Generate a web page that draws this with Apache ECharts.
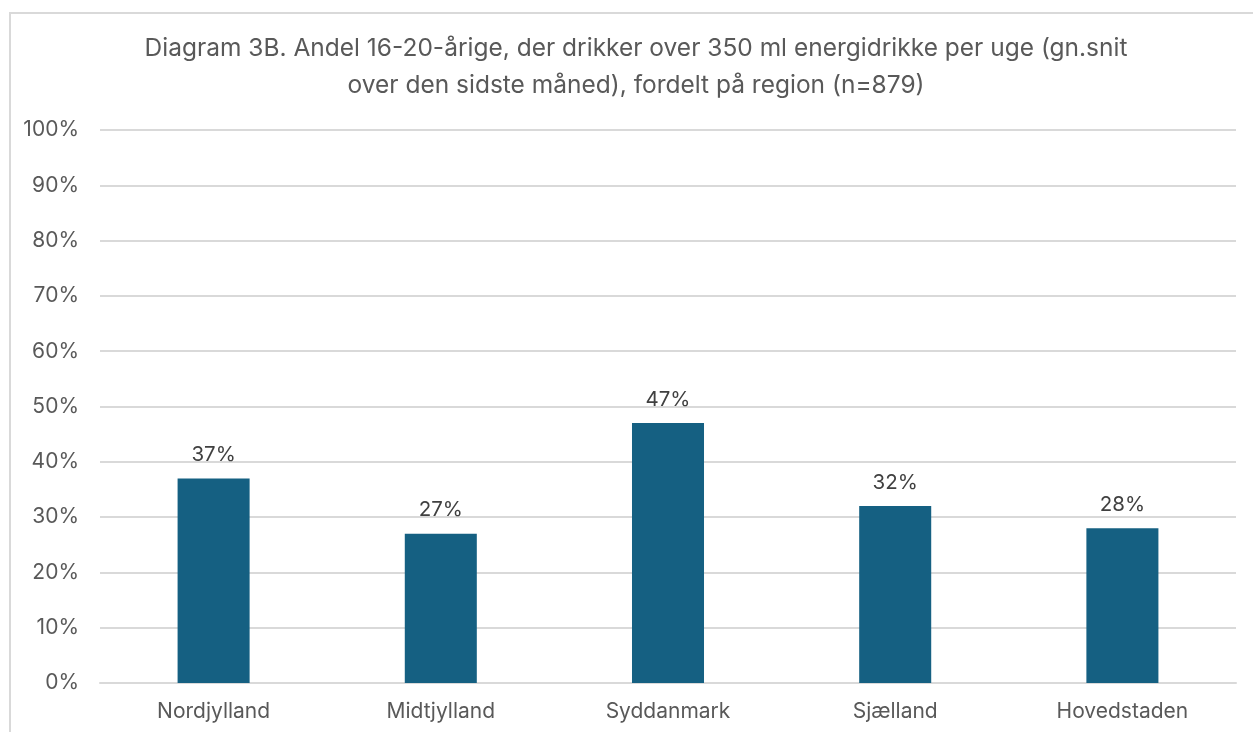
<!DOCTYPE html>
<html><head><meta charset="utf-8">
<script src="https://cdn.jsdelivr.net/npm/echarts@6/dist/echarts.min.js"></script>
<style>
html,body{margin:0;padding:0;background:#fff;overflow:hidden;}
#frame{position:absolute;left:9px;top:12px;width:1300px;height:800px;border:2px solid #d9d9d9;box-sizing:border-box;z-index:5;pointer-events:none;}
#c{position:absolute;left:0;top:0;width:1253px;height:732px;}
</style></head>
<body>
<div id="c"></div>
<div id="frame"></div>
<script>
const categories = ['Nordjylland','Midtjylland','Syddanmark','Sjælland','Hovedstaden'];
const values = [37, 27, 47, 32, 28];
const titleText = 'Diagram 3B. Andel 16-20-årige, der drikker over 350 ml energidrikke per uge (gn.snit\nover den sidste måned), fordelt på region (n=879)';

const chart = echarts.init(document.getElementById('c'), null, {renderer:'canvas'});
const font = 'Inter, "Noto Sans", sans-serif';
chart.setOption({
  animation:false,
  title:{
    text:titleText,
    left:631, top:25, textAlign:'center',
    textStyle:{fontFamily:font, fontSize:24.5, fontWeight:'normal', color:'#595959', lineHeight:37, align:'center'}
  },
  grid:{left:100, right:17, top:130, bottom:49},
  xAxis:{
    type:'category', data:categories,
    axisLine:{show:true, lineStyle:{color:'#d9d9d9', width:2}},
    axisTick:{show:false},
    axisLabel:{fontFamily:font, fontSize:21, color:'#595959', margin:18}
  },
  yAxis:{
    type:'value', min:0, max:100, interval:10,
    axisLabel:{formatter:'{value}%', fontFamily:font, fontSize:21, color:'#595959', margin:21},
    splitLine:{lineStyle:{color:'#d9d9d9', width:2}},
    axisLine:{show:false}, axisTick:{show:false}
  },
  series:[{
    type:'bar', data:values, barWidth:'31.7%',
    itemStyle:{color:'#156082'},
    label:{show:true, position:'top', distance:13, formatter:'{c}%', fontFamily:font, fontSize:20.5, color:'#404040'}
  }]
});
</script>
</body></html>
